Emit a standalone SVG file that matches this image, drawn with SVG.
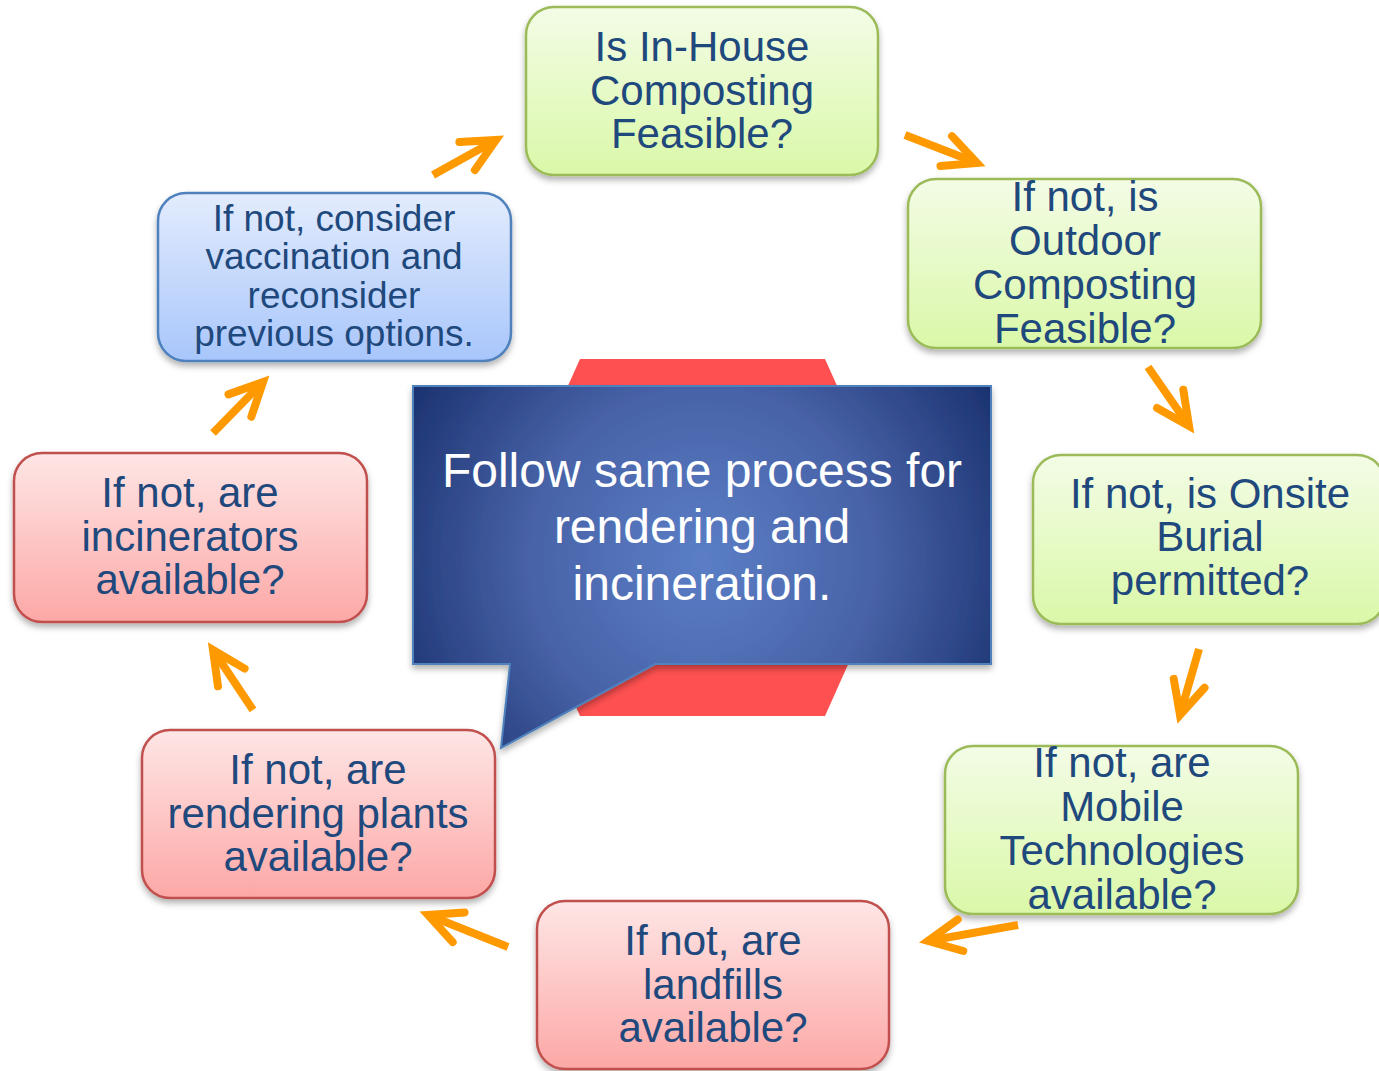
<svg xmlns="http://www.w3.org/2000/svg" width="1379" height="1071" viewBox="0 0 1379 1071">
<defs>
<linearGradient id="gG" x1="0" y1="0" x2="0" y2="1"><stop offset="0" stop-color="#f3fce6"/><stop offset="1" stop-color="#daf8a8"/></linearGradient>
<linearGradient id="gR" x1="0" y1="0" x2="0" y2="1"><stop offset="0" stop-color="#fee6e6"/><stop offset="1" stop-color="#fca8a6"/></linearGradient>
<linearGradient id="gB" x1="0" y1="0" x2="0" y2="1"><stop offset="0" stop-color="#e3ecfd"/><stop offset="1" stop-color="#a8c6fb"/></linearGradient>
<radialGradient id="gC" gradientUnits="userSpaceOnUse" cx="702" cy="560" r="380"><stop offset="0" stop-color="#5b7ec6"/><stop offset="0.45" stop-color="#4863a8"/><stop offset="1" stop-color="#0f2561"/></radialGradient>
<filter id="sh" x="-10%" y="-10%" width="120%" height="130%"><feDropShadow dx="0" dy="4" stdDeviation="3" flood-color="#000" flood-opacity="0.3"/></filter>
<marker id="ah" markerUnits="userSpaceOnUse" viewBox="-45 -25 50 50" markerWidth="50" markerHeight="50" refX="0" refY="0" orient="auto" overflow="visible"><path d="M-33,-16 L0,0 L-33,16" fill="none" stroke="#ff9900" stroke-width="8" stroke-linecap="round" stroke-linejoin="miter"/></marker>
</defs>
<style>
.n rect{stroke-width:2.5;filter:url(#sh)}
.g rect{fill:url(#gG);stroke:#9bbb59}
.r rect{fill:url(#gR);stroke:#c0504d}
.b rect{fill:url(#gB);stroke:#4f81bd}
.t{font-family:"Liberation Sans",Arial,sans-serif;font-size:42px;fill:#1f497d;text-anchor:middle}
.t2{font-size:37px}
.ct{font-family:"Liberation Sans",Arial,sans-serif;font-size:48px;fill:#ffffff;text-anchor:middle}
.a{fill:none;stroke:#ff9900;stroke-width:8;marker-end:url(#ah)}
</style>
<g id="center">
<polygon points="580,359 825,359 905,537 825,716 580,716 500,537" fill="#fe5050"/>
<path d="M413,386 H991 V664 H655 L501,748 L510,664 H413 Z" fill="url(#gC)" stroke="#4f81bd" stroke-width="2" filter="url(#sh)"/>
<text class="ct" x="702" y="487">Follow same process for</text>
<text class="ct" x="702" y="543">rendering and</text>
<text class="ct" x="702" y="600">incineration.</text>
</g>
<g id="n1" class="n g"><rect x="526" y="7" width="352" height="168" rx="28"/>
<text class="t" x="702" y="61">Is In-House</text><text class="t" x="702" y="105">Composting</text><text class="t" x="702" y="148">Feasible?</text></g>
<g id="n2" class="n g"><rect x="908" y="179" width="353" height="169" rx="28"/>
<text class="t" x="1085" y="211">If not, is</text><text class="t" x="1085" y="255">Outdoor</text><text class="t" x="1085" y="299">Composting</text><text class="t" x="1085" y="343">Feasible?</text></g>
<g id="n3" class="n g"><rect x="1033" y="455" width="352" height="169" rx="28"/>
<text class="t" x="1210" y="508">If not, is Onsite</text><text class="t" x="1210" y="551">Burial</text><text class="t" x="1210" y="595">permitted?</text></g>
<g id="n4" class="n g"><rect x="945" y="746" width="353" height="168" rx="28"/>
<text class="t" x="1122" y="777">If not, are</text><text class="t" x="1122" y="821">Mobile</text><text class="t" x="1122" y="865">Technologies</text><text class="t" x="1122" y="909">available?</text></g>
<g id="n5" class="n r"><rect x="537" y="901" width="352" height="168" rx="28"/>
<text class="t" x="713" y="955">If not, are</text><text class="t" x="713" y="999">landfills</text><text class="t" x="713" y="1042">available?</text></g>
<g id="n6" class="n r"><rect x="142" y="730" width="353" height="168" rx="28"/>
<text class="t" x="318" y="784">If not, are</text><text class="t" x="318" y="828">rendering plants</text><text class="t" x="318" y="871">available?</text></g>
<g id="n7" class="n r"><rect x="14" y="453" width="353" height="169" rx="28"/>
<text class="t" x="190" y="507">If not, are</text><text class="t" x="190" y="551">incinerators</text><text class="t" x="190" y="594">available?</text></g>
<g id="n8" class="n b"><rect x="158" y="193" width="353" height="168" rx="28"/>
<text class="t t2" x="334" y="231">If not, consider</text><text class="t t2" x="334" y="269">vaccination and</text><text class="t t2" x="334" y="308">reconsider</text><text class="t t2" x="334" y="346">previous options.</text></g>
<g id="connectors">
<path class="a" d="M433,175 L496,140"/>
<path class="a" d="M905,135 L977,163"/>
<path class="a" d="M1148,367 L1189,426"/>
<path class="a" d="M1199,649 L1180,715"/>
<path class="a" d="M1018,925 L928,941"/>
<path class="a" d="M508,947 L428,915"/>
<path class="a" d="M253,710 L213,650"/>
<path class="a" d="M213,433 L263,382"/>
</g>
</svg>
